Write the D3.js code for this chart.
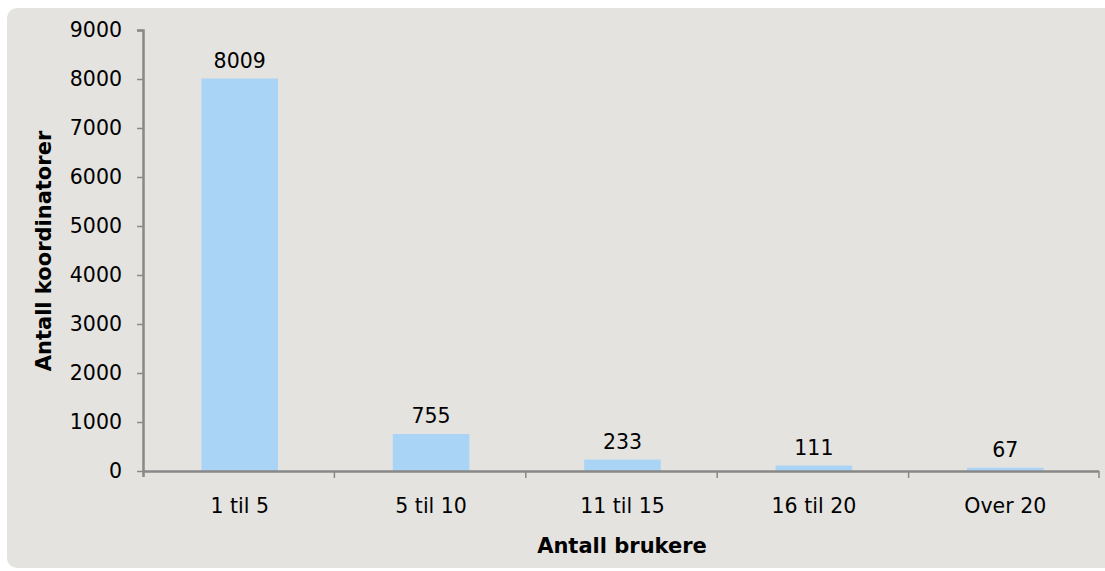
<!DOCTYPE html>
<html>
<head>
<meta charset="utf-8">
<script src="https://cdn.jsdelivr.net/npm/d3@7"></script>
<style>
  body { margin: 0; background: #ffffff; }
  text { font-family: "DejaVu Sans", Verdana, sans-serif; fill: #000; }
</style>
</head>
<body>
<div id="chart"></div>
<script>
// data
var categories = ["1 til 5", "5 til 10", "11 til 15", "16 til 20", "Over 20"];
var counts = [8009, 755, 233, 111, 67];
var yTicks = [0, 1000, 2000, 3000, 4000, 5000, 6000, 7000, 8000, 9000];

var svgWidth = 1105;
var svgHeight = 571;

var chartMargin = { top: 30, right: 5, bottom: 100, left: 143 };
var chartWidth = svgWidth - chartMargin.left - chartMargin.right;
var chartHeight = 471 - chartMargin.top;

var svg = d3.select("#chart")
  .append("svg")
  .attr("width", svgWidth)
  .attr("height", svgHeight);

// grey panel, rounded on the left
svg.append("rect")
  .attr("x", 7)
  .attr("y", 8)
  .attr("width", svgWidth + 20)
  .attr("height", 560)
  .attr("rx", 10)
  .attr("fill", "#e4e3df");

var chartGroup = svg.append("g")
  .attr("transform", `translate(${chartMargin.left}, ${chartMargin.top})`);

var data = categories.map((c, i) => ({ cat: c, value: counts[i] }));

var xBandScale = d3.scaleBand()
  .domain(categories)
  .range([0, chartWidth])
  .padding(0);

var yLinearScale = d3.scaleLinear()
  .domain([0, 9000])
  .range([chartHeight, 0]);

// bars
var barW = xBandScale.bandwidth() * 0.4;
chartGroup.selectAll(".bar")
  .data(data)
  .enter()
  .append("rect")
  .attr("class", "bar")
  .attr("x", d => xBandScale(d.cat) + xBandScale.bandwidth() / 2 - barW / 2 + 1)
  .attr("y", d => yLinearScale(d.value))
  .attr("width", barW)
  .attr("height", d => chartHeight - yLinearScale(d.value))
  .attr("fill", "#a9d4f5");

// value labels
chartGroup.selectAll(".val")
  .data(data)
  .enter()
  .append("text")
  .attr("class", "val")
  .attr("x", d => xBandScale(d.cat) + xBandScale.bandwidth() / 2 + 1)
  .attr("y", d => yLinearScale(d.value) - 11)
  .attr("text-anchor", "middle")
  .style("font-size", "20.5px")
  .text(d => d.value);

// y axis
var leftAxis = d3.axisLeft(yLinearScale).tickValues(yTicks).tickSize(6).tickPadding(15).tickFormat(d3.format("d"));
var yAxisG = chartGroup.append("g").call(leftAxis);
yAxisG.select(".domain").attr("d", `M-6,0.5H0.5V${chartHeight + 6}`);
yAxisG.selectAll("text").style("font-size", "20.5px").style("fill", "#000");

// x axis with ticks at category boundaries
var xAxisG = chartGroup.append("g")
  .attr("transform", `translate(0, ${chartHeight})`);
xAxisG.append("line")
  .attr("x1", 0).attr("x2", chartWidth - 1)
  .attr("y1", 0.5).attr("y2", 0.5)
  .attr("stroke", "#888").attr("stroke-width", 2.5);
xAxisG.selectAll(".sep")
  .data(categories.slice(1).concat(["end"]))
  .enter()
  .append("line")
  .attr("x1", (d, i) => i < categories.length - 1 ? xBandScale(d) : chartWidth - 1)
  .attr("x2", (d, i) => i < categories.length - 1 ? xBandScale(d) : chartWidth - 1)
  .attr("y1", 0).attr("y2", 7)
  .attr("stroke", "#888").attr("stroke-width", 1.5);
xAxisG.selectAll(".lab")
  .data(categories)
  .enter()
  .append("text")
  .attr("x", d => xBandScale(d) + xBandScale.bandwidth() / 2 + 1)
  .attr("y", 42)
  .attr("text-anchor", "middle")
  .style("font-size", "20.5px")
  .text(d => d);

yAxisG.selectAll("line").attr("stroke", "#888").attr("stroke-width", 1.5);
yAxisG.select(".domain").attr("stroke", "#888").attr("stroke-width", 2.5);

// axis titles
svg.append("text")
  .attr("x", 622)
  .attr("y", 553)
  .attr("text-anchor", "middle")
  .style("font-size", "21px")
  .style("font-weight", "bold")
  .text("Antall brukere");

svg.append("text")
  .attr("transform", "translate(51, 251) rotate(-90)")
  .attr("text-anchor", "middle")
  .style("font-size", "21px")
  .style("font-weight", "bold")
  .text("Antall koordinatorer");
</script>
</body>
</html>
